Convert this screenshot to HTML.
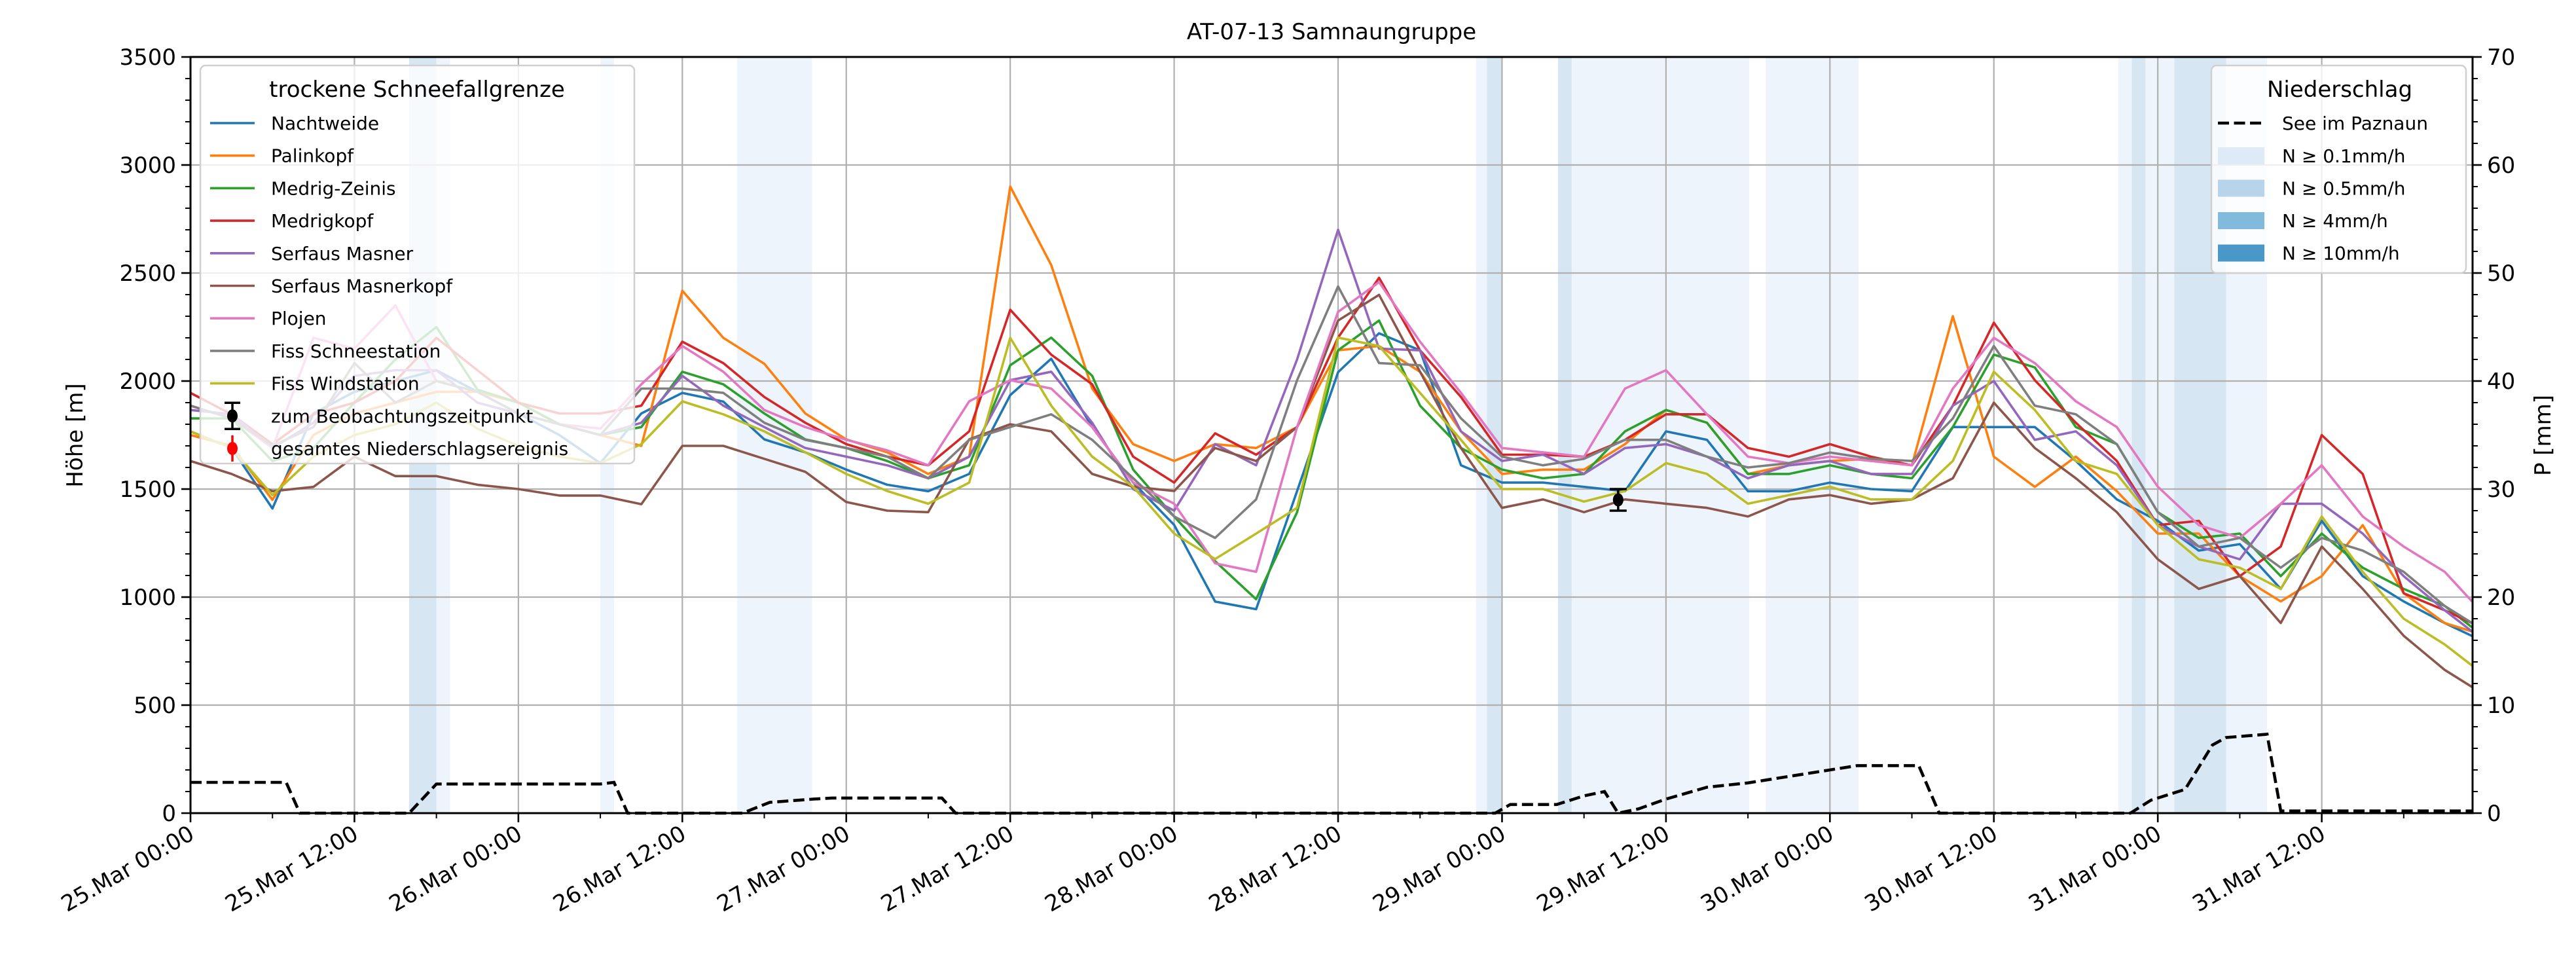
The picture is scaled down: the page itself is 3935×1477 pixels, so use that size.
<!DOCTYPE html>
<html><head><meta charset="utf-8"><style>
html,body{margin:0;padding:0;background:#fff}
svg{display:block;font-family:"DejaVu Sans","Liberation Sans",sans-serif}
</style></head><body>
<svg id="chart" xmlns="http://www.w3.org/2000/svg" width="3935" height="1477" viewBox="0 0 3935 1477">
<rect width="3935" height="1477" fill="#fff"/>
<g id="bands"></g><g id="grid"></g><g id="series"></g><g id="axes"></g><g id="legends"></g>
</svg>
<script>
const hours=[0,3,6,9,12,15,18,21,24,27,30,33,36,39,42,45,48,51,54,57,60,63,66,69,72,75,78,81,84,87,90,93,96,99,102,105,108,111,114,117,120,123,126,129,132,135,138,141,144,147,150,153,156,159,162,165,167];
const nachtweide=[1767,1690,1410,1850,1950,2000,2050,1950,1850,1750,1620,1850,1945,1905,1730,1670,1590,1520,1490,1570,1935,2103,1787,1530,1334,979,944,1491,2041,2221,2142,1610,1530,1530,1510,1490,1767,1728,1490,1490,1530,1500,1490,1787,1787,1787,1630,1452,1353,1215,1245,1038,1353,1097,980,880,820];
const palinkopf=[1750,1700,1450,1750,1850,1900,1950,1950,1900,1800,1750,1700,2418,2200,2080,1850,1730,1670,1570,1650,2900,2537,1965,1708,1630,1708,1690,1787,2142,2162,2043,1767,1570,1590,1590,1708,1866,1807,1570,1610,1630,1640,1610,2300,1650,1510,1650,1490,1294,1294,1097,980,1097,1333,1018,880,841];
const medrigZeinis=[1827,1827,1630,1690,1900,2100,2250,1960,1900,1800,1750,1787,2043,1985,1850,1730,1690,1630,1550,1610,2073,2201,2024,1590,1373,1166,990,1393,2142,2280,1886,1690,1590,1550,1570,1767,1866,1807,1570,1570,1610,1570,1550,1787,2122,2063,1787,1708,1393,1274,1294,1097,1294,1136,1038,959,860];
const medrigkopf=[1945,1846,1708,1846,1900,2000,2200,2050,1900,1850,1850,1886,2182,2083,1926,1807,1708,1650,1610,1767,2330,2122,1985,1650,1530,1758,1659,1787,2201,2478,2142,1926,1659,1659,1650,1728,1846,1846,1690,1650,1708,1650,1610,1886,2270,2004,1807,1630,1333,1353,1097,1234,1750,1570,1018,939,880];
const serfausMasner=[1866,1846,1690,1807,2024,2050,2050,1900,1850,1800,1750,1807,2024,1886,1787,1690,1650,1610,1550,1650,2004,2043,1807,1500,1400,1708,1610,2100,2700,2150,2142,1767,1630,1659,1570,1690,1708,1650,1550,1610,1630,1570,1570,1886,2000,1728,1767,1610,1333,1234,1175,1432,1432,1294,1097,939,841];
const serfausMasnerkopf=[1630,1570,1490,1510,1650,1560,1560,1520,1500,1470,1470,1430,1700,1700,1640,1580,1440,1400,1393,1730,1800,1767,1570,1511,1491,1690,1630,1787,2280,2399,2043,1690,1413,1452,1393,1452,1432,1413,1373,1452,1472,1432,1452,1550,1900,1690,1550,1393,1175,1038,1097,880,1234,1038,821,663,584];
const plojen=[1886,1827,1690,2200,2150,2350,2000,1950,1850,1800,1780,1985,2162,2043,1866,1787,1728,1679,1610,1906,2004,1965,1787,1530,1432,1156,1117,1787,2320,2458,2182,1945,1690,1670,1650,1965,2050,1846,1650,1620,1650,1630,1610,1965,2200,2083,1906,1787,1511,1333,1274,1432,1610,1373,1234,1117,980];
const fissSchneestation=[1886,1827,1700,1787,2083,1900,2000,1950,1850,1800,1750,1965,1965,1945,1807,1728,1690,1650,1550,1728,1787,1846,1728,1550,1373,1274,1452,2004,2438,2083,2073,1827,1650,1610,1640,1728,1728,1650,1600,1620,1669,1640,1630,1827,2162,1886,1846,1708,1393,1234,1274,1136,1274,1215,1117,959,880];
const fissWindstation=[1767,1690,1472,1650,1750,1800,1900,1780,1700,1650,1620,1708,1906,1846,1767,1670,1570,1491,1432,1530,2200,1886,1650,1511,1294,1176,1294,1413,2201,2162,1945,1728,1500,1500,1442,1491,1620,1570,1432,1472,1511,1452,1452,1630,2043,1866,1630,1570,1333,1175,1136,1038,1373,1117,900,781,683];
const precipHours=[0,7,8,16,18,30,31,32,40.4,42.4,45.6,47,55,56,95.5,96.6,100,102,103.5,104.5,106,108,111,114,117,120,122,126.5,128,142,143.5,146,148,149,152,153,167];
const precipValues=[2.85,2.85,0,0,2.7,2.7,2.85,0,0,1.0,1.3,1.4,1.4,0,0,0.8,0.8,1.6,2.0,0,0.4,1.3,2.4,2.8,3.4,4.0,4.4,4.4,0,0,1.2,2.2,6.3,7.0,7.3,0.2,0.2];
const bandStart=[16,18,30,40,94.1,94.9,100.1,101.1,115.3,141.1,142.1,143.1,145.2,149];
const bandEnd=[18,19,31,45.5,94.9,96,101.1,114.1,122.1,142.1,143.1,145.2,149,152];
const bandLevel=[1,0,0,0,0,1,1,0,0,0,1,0,1,0];
const obsHour=[104.5];const obsValue=[1450];const obsErr=[50];
const xTickLabels=["25.Mar 00:00","25.Mar 12:00","26.Mar 00:00","26.Mar 12:00","27.Mar 00:00","27.Mar 12:00","28.Mar 00:00","28.Mar 12:00","29.Mar 00:00","29.Mar 12:00","30.Mar 00:00","30.Mar 12:00","31.Mar 00:00","31.Mar 12:00"];
const yTicks=[0,500,1000,1500,2000,2500,3000,3500];
const pTicks=[0,10,20,30,40,50,60,70];

const NS="http://www.w3.org/2000/svg";
const L=291,R=3777,T=87,B=1242;
const HMAX=167.04;
const x=h=>L+h*(R-L)/HMAX;
const y=v=>B-v*(B-T)/3500;
const yp=p=>B-p*(B-T)/70;
function mk(tag,attrs,parent,text){const e=document.createElementNS(NS,tag);for(const k in attrs)e.setAttribute(k,attrs[k]);if(text!==undefined)e.textContent=text;parent.appendChild(e);return e;}
const gB=document.getElementById('bands'),gG=document.getElementById('grid'),gS=document.getElementById('series'),gA=document.getElementById('axes'),gL=document.getElementById('legends');

bandStart.forEach((s,i)=>{
  const r=mk('rect',{x:x(s),y:T,width:x(bandEnd[i])-x(s),height:B-T,fill:bandLevel[i]?'#d7e6f3':'#eef4fb'},gB);
  
  
});
for(let i=0;i<xTickLabels.length;i++){
  const g=mk('line',{x1:x(i*12),x2:x(i*12),y1:T,y2:B,stroke:'#b0b0b0','stroke-width':2.2},gG);
  
  
}
yTicks.forEach(v=>{
  const g=mk('line',{x1:L,x2:R,y1:y(v),y2:y(v),stroke:'#b0b0b0','stroke-width':2.2},gG);
  
  
});

const series=[
 ['nachtweide',nachtweide,'#1f77b4','Nachtweide'],
 ['palinkopf',palinkopf,'#ff7f0e','Palinkopf'],
 ['medrig-zeinis',medrigZeinis,'#2ca02c','Medrig-Zeinis'],
 ['medrigkopf',medrigkopf,'#d62728','Medrigkopf'],
 ['serfaus-masner',serfausMasner,'#9467bd','Serfaus Masner'],
 ['serfaus-masnerkopf',serfausMasnerkopf,'#8c564b','Serfaus Masnerkopf'],
 ['plojen',plojen,'#e377c2','Plojen'],
 ['fiss-schneestation',fissSchneestation,'#7f7f7f','Fiss Schneestation'],
 ['fiss-windstation',fissWindstation,'#bcbd22','Fiss Windstation']];
series.forEach(s=>{
  const d=s[1].map((v,i)=>(i?'L':'M')+x(hours[i]).toFixed(1)+','+y(v).toFixed(1)).join('');
  const p=mk('path',{d:d,fill:'none',stroke:s[2],'stroke-width':3.6,'stroke-linejoin':'round'},gS);
  
  
});
const pd=precipValues.map((v,i)=>(i?'L':'M')+x(precipHours[i]).toFixed(1)+','+yp(v).toFixed(1)).join('');
const pl=mk('path',{d:pd,fill:'none',stroke:'#000','stroke-width':4.6,'stroke-dasharray':'17,7.5'},gS);


obsHour.forEach((h,i)=>{
  const g=mk('g',{},gS);
  
  
  const cx=x(h),y1=y(obsValue[i]+obsErr[i]),y2=y(obsValue[i]-obsErr[i]);
  mk('line',{x1:cx,x2:cx,y1:y1,y2:y2,stroke:'#000','stroke-width':3.5},g);
  mk('line',{x1:cx-13,x2:cx+13,y1:y1,y2:y1,stroke:'#000','stroke-width':3.5},g);
  mk('line',{x1:cx-13,x2:cx+13,y1:y2,y2:y2,stroke:'#000','stroke-width':3.5},g);
  mk('ellipse',{cx:cx,cy:y(obsValue[i]),rx:8,ry:10,fill:'#000'},g);
});

// axes frame
const fr=mk('rect',{x:L,y:T,width:R-L,height:B-T,fill:'none',stroke:'#000','stroke-width':3},gA);


for(let h=0;h<=HMAX;h+=6){const maj=h%12===0;mk('line',{x1:x(h),x2:x(h),y1:B,y2:B+(maj?14:8),stroke:'#000','stroke-width':maj?2.6:2},gA);}
xTickLabels.forEach((t,i)=>{
  const px=x(i*12);
  const e=mk('text',{x:0,y:0,'font-size':34,'text-anchor':'end',transform:`translate(${px+8},${B+38}) rotate(-30)`},gA,t);
  
  
});
for(let v=0;v<=3500;v+=100){const maj=v%500===0;mk('line',{x1:L,x2:L-(maj?14:8),y1:y(v),y2:y(v),stroke:'#000','stroke-width':maj?2.6:2},gA);}
yTicks.forEach(v=>{
  const e=mk('text',{x:L-22,y:y(v)+12,'font-size':34,'text-anchor':'end'},gA,String(v));
  
  
});
for(let p=0;p<=70;p+=2){const maj=p%10===0;mk('line',{x1:R,x2:R+(maj?14:8),y1:yp(p),y2:yp(p),stroke:'#000','stroke-width':maj?2.6:2},gA);}
pTicks.forEach(p=>{
  const e=mk('text',{x:R+22,y:yp(p)+12,'font-size':34,'text-anchor':'start'},gA,String(p));
  
  
});
</script>
<script>
(function(){
const NS="http://www.w3.org/2000/svg";
const gL=document.getElementById('legends');
function mk(tag,attrs,parent,text){const e=document.createElementNS(NS,tag);for(const k in attrs)e.setAttribute(k,attrs[k]);if(text!==undefined)e.textContent=text;parent.appendChild(e);return e;}
const t=mk('text',{x:2034,y:60,'font-size':34,'text-anchor':'middle'},gL,'AT-07-13 Samnaungruppe');


const yl=mk('text',{x:0,y:0,'font-size':34,'text-anchor':'middle',transform:'translate(126,665) rotate(-90)'},gL,'Höhe [m]');


const pl=mk('text',{x:0,y:0,'font-size':34,'text-anchor':'middle',transform:'translate(3896,665) rotate(-90)'},gL,'P [mm]');



// left legend
const lg=mk('g',{},gL);


mk('rect',{x:306,y:100,width:663,height:608,rx:8,fill:'rgba(255,255,255,0.8)',stroke:'#d0d0d0','stroke-width':2.5},lg);
mk('text',{x:637,y:148,'font-size':34,'text-anchor':'middle'},lg,'trockene Schneefallgrenze');
const cols=['#1f77b4','#ff7f0e','#2ca02c','#d62728','#9467bd','#8c564b','#e377c2','#7f7f7f','#bcbd22'];
const names=['Nachtweide','Palinkopf','Medrig-Zeinis','Medrigkopf','Serfaus Masner','Serfaus Masnerkopf','Plojen','Fiss Schneestation','Fiss Windstation'];
names.forEach((n,i)=>{
  const yy=188+49.7*i;
  const e=mk('g',{},lg);
  
  
  mk('line',{x1:321,x2:389,y1:yy,y2:yy,stroke:cols[i],'stroke-width':3.6},e);
  mk('text',{x:414,y:yy+10,'font-size':28},e,n);
});
[['#000','zum Beobachtungszeitpunkt',true],['#ff0000','gesamtes Niederschlagsereignis',false]].forEach((s,j)=>{
  const yy=188+49.7*(9+j);
  const e=mk('g',{},lg);
  
  
  mk('line',{x1:355,x2:355,y1:yy-20,y2:yy+20,stroke:s[0],'stroke-width':3.5},e);
  if(s[2]){mk('line',{x1:343,x2:367,y1:yy-20,y2:yy-20,stroke:s[0],'stroke-width':3.5},e);mk('line',{x1:343,x2:367,y1:yy+20,y2:yy+20,stroke:s[0],'stroke-width':3.5},e);}
  mk('ellipse',{cx:355,cy:yy,rx:8,ry:10,fill:s[0]},e);
  mk('text',{x:414,y:yy+10,'font-size':28},e,s[1]);
});

// right legend
const rg=mk('g',{},gL);


mk('rect',{x:3378,y:100,width:389,height:317,rx:8,fill:'rgba(255,255,255,0.8)',stroke:'#d0d0d0','stroke-width':2.5},rg);
mk('text',{x:3574,y:148,'font-size':34,'text-anchor':'middle'},rg,'Niederschlag');
const e0=mk('g',{},rg);


mk('line',{x1:3388,x2:3458,y1:188,y2:188,stroke:'#000','stroke-width':4.6,'stroke-dasharray':'17,7.5'},e0);
mk('text',{x:3486,y:198,'font-size':28},e0,'See im Paznaun');
[['#deebf7','N ≥ 0.1mm/h'],['#b7d4ea','N ≥ 0.5mm/h'],['#82badb','N ≥ 4mm/h'],['#4a98c9','N ≥ 10mm/h']].forEach((s,i)=>{
  const yy=238+49.5*i;
  const e=mk('g',{},rg);
  
  
  mk('rect',{x:3388,y:yy-13,width:71,height:26,fill:s[0]},e);
  mk('text',{x:3486,y:yy+10,'font-size':28},e,s[1]);
});
})();
</script>
</body></html>
